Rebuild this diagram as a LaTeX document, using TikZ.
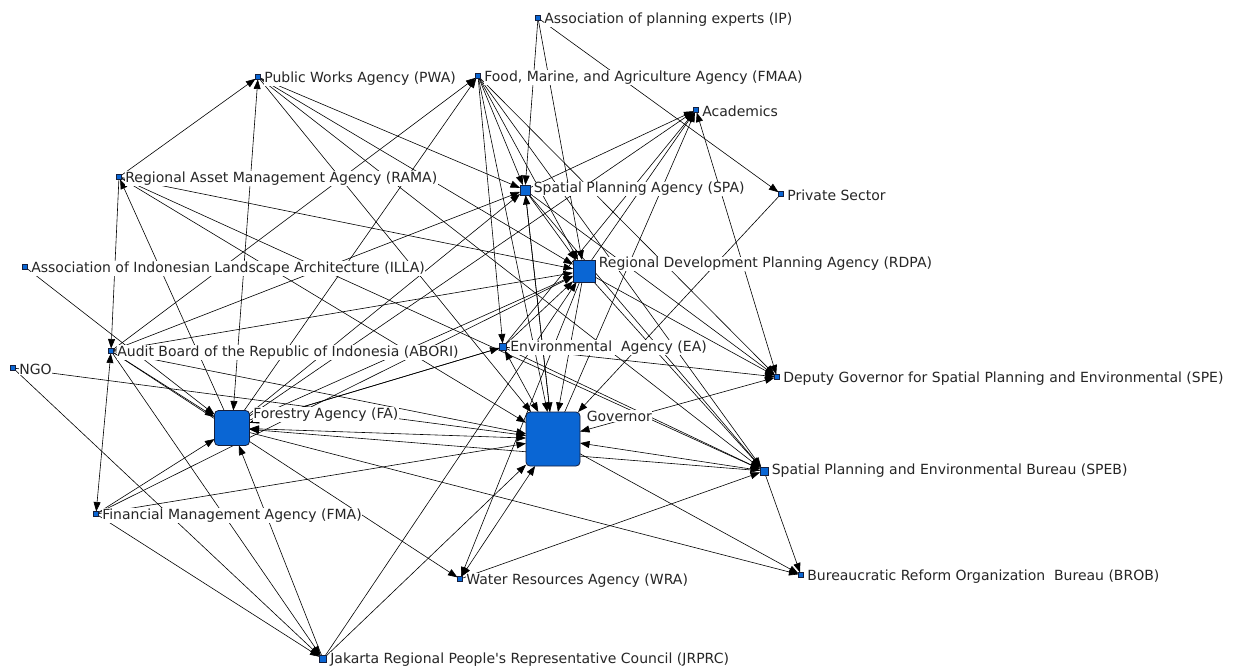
\documentclass[tikz,border=0pt]{standalone}
\usepackage{fontspec}
\setmainfont{DejaVu Sans}
\usetikzlibrary{arrows.meta,calc}
\pgfdeclarelayer{bg}
\pgfsetlayers{bg,main}
\definecolor{ndblue}{RGB}{10,102,212}
\definecolor{ndedge}{RGB}{20,30,60}
\tikzset{
  nd/.style={draw=ndedge, fill=ndblue, minimum size=#1, inner sep=0pt, outer sep=0pt, line width=0.6pt},
  bignd/.style={draw=ndedge, fill=ndblue, minimum size=#1, inner sep=0pt, outer sep=0pt, rounded corners=4pt, line width=0.8pt},
  lbl/.style={anchor=west, fill=white, inner sep=0.6pt, font=\fontsize{14}{16}\selectfont, text=black!85},
  ed/.style={-{Triangle[length=9.5pt,width=7pt]}, line width=0.6pt, draw=black},
  bi/.style={{Triangle[length=9.5pt,width=7pt]}-{Triangle[length=9.5pt,width=7pt]}, line width=0.6pt, draw=black}
}
\begin{document}
\begin{tikzpicture}[x=1pt,y=-1pt]
\useasboundingbox (0,0) rectangle (1239,668);
% nodes
\node[nd=5pt] (IP) at (538,18) {};
\node[nd=5pt] (PWA) at (258,77) {};
\node[nd=5pt] (FMAA) at (478,76) {};
\node[nd=5pt] (ACA) at (696,110) {};
\node[nd=5pt] (RAMA) at (119,177) {};
\node[nd=10pt] (SPA) at (525,190) {};
\node[nd=5pt] (PS) at (781,194) {};
\node[nd=22pt] (RDPA) at (584,271) {};
\node[nd=5pt] (ILLA) at (25,267) {};
\node[nd=5pt] (ABORI) at (111,351) {};
\node[nd=7pt] (EA) at (503,347) {};
\node[nd=5pt] (SPE) at (777,377) {};
\node[nd=5pt] (NGO) at (13,368) {};
\node[bignd=35pt] (FA) at (232,428) {};
\node[bignd=54pt] (GOV) at (553,439) {};
\node[nd=8pt] (SPEB) at (764,471) {};
\node[nd=5pt] (FMA) at (96,514) {};
\node[nd=5pt] (WRA) at (460,579) {};
\node[nd=5pt] (BROB) at (801,575) {};
\node[nd=7pt] (JRPRC) at (323,659) {};
% edges
\begin{pgfonlayer}{bg}
\fill[white] (0,0) rectangle (1239,668);
\foreach \a/\b in {IP/SPA, IP/RDPA, IP/PS,
  FMAA/SPA, FMAA/RDPA, FMAA/EA, FMAA/GOV, FMAA/SPEB, FMAA/SPE,
  FA/FMAA, ABORI/FMAA,
  RAMA/PWA, PWA/SPA, PWA/RDPA, PWA/GOV, PWA/SPEB,
  RAMA/ABORI, FA/RAMA, RAMA/GOV, RAMA/RDPA, RAMA/SPEB,
  ILLA/FA, NGO/GOV, NGO/JRPRC,
  ABORI/FA, ABORI/GOV, ABORI/JRPRC, ABORI/SPA, ABORI/RDPA, ABORI/WRA,
  FMA/FA, FMA/RDPA, FMA/GOV, FMA/JRPRC,
  JRPRC/FA, JRPRC/RDPA, JRPRC/GOV,
  FA/EA, FA/BROB, FA/RDPA, FA/SPA, FA/ACA,
  GOV/BROB, SPEB/BROB, WRA/SPEB, RDPA/WRA,
  EA/SPE, SPA/SPE, RDPA/SPE,
  PS/GOV, SPA/ACA, EA/ACA, RDPA/ACA, GOV/ACA,
  EA/RDPA, SPA/RDPA, SPA/GOV, RDPA/GOV, RDPA/SPEB, SPA/SPEB, EA/SPEB, SPEB/FA, EA/FA, GOV/SPA}
  \draw[ed] (\a) -- (\b);
\foreach \a/\b in {PWA/FA, FMA/ABORI, FA/GOV, SPEB/GOV, GOV/WRA, ACA/SPE, EA/GOV, GOV/SPE}
  \draw[bi] (\a) -- (\b);
\end{pgfonlayer}
% labels
\node[lbl] (IPl) at ($(IP.north east)+(3,4)$) {Association of planning experts (IP)};
\node[lbl] (PWAl) at ($(PWA.north east)+(3,4)$) {Public Works Agency (PWA)};
\node[lbl] (FMAAl) at ($(FMAA.north east)+(3,4)$) {Food, Marine, and Agriculture Agency (FMAA)};
\node[lbl] (ACAl) at ($(ACA.north east)+(3,4)$) {Academics};
\node[lbl] (RAMAl) at ($(RAMA.north east)+(3,4)$) {Regional Asset Management Agency (RAMA)};
\node[lbl] (SPAl) at ($(SPA.north east)+(3,4)$) {Spatial Planning Agency (SPA)};
\node[lbl] (PSl) at ($(PS.north east)+(3,4)$) {Private Sector};
\node[lbl] (RDPAl) at ($(RDPA.north east)+(3,4)$) {Regional Development Planning Agency (RDPA)};
\node[lbl] (ILLAl) at ($(ILLA.north east)+(3,4)$) {Association of Indonesian Landscape Architecture (ILLA)};
\node[lbl] (ABORIl) at ($(ABORI.north east)+(3,4)$) {Audit Board of the Republic of Indonesia (ABORI)};
\node[lbl] (EAl) at ($(EA.north east)+(3,4)$) {Environmental\ \ Agency (EA)};
\node[lbl] (SPEl) at ($(SPE.north east)+(3,4)$) {Deputy Governor for Spatial Planning and Environmental (SPE)};
\node[lbl] (NGOl) at ($(NGO.north east)+(3,4)$) {NGO};
\node[lbl] (FAl) at ($(FA.north east)+(3,4)$) {Forestry Agency (FA)};
\node[lbl] (GOVl) at ($(GOV.north east)+(6,4)$) {Governor};
\node[lbl] (SPEBl) at ($(SPEB.north east)+(3,4)$) {Spatial Planning and Environmental Bureau (SPEB)};
\node[lbl] (FMAl) at ($(FMA.north east)+(3,4)$) {Financial Management Agency (FMA)};
\node[lbl] (WRAl) at ($(WRA.north east)+(3,4)$) {Water Resources Agency (WRA)};
\node[lbl] (BROBl) at ($(BROB.north east)+(3,4)$) {Bureaucratic Reform Organization\ \ Bureau (BROB)};
\node[lbl] (JRPRCl) at ($(JRPRC.north east)+(3,4)$) {Jakarta Regional People\textquotesingle s Representative Council (JRPRC)};
\end{tikzpicture}
\end{document}
